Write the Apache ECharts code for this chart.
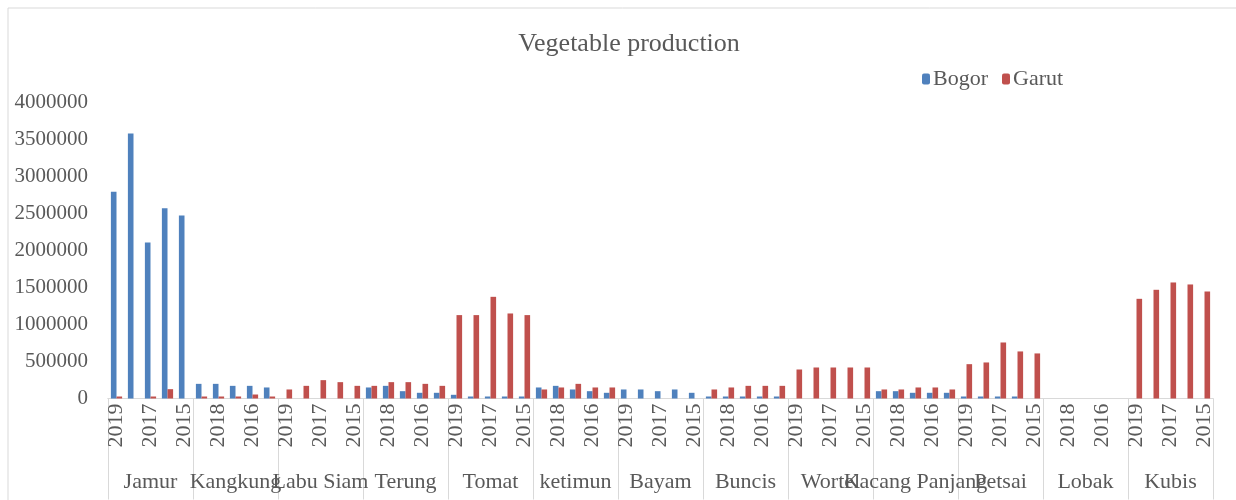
<!DOCTYPE html>
<html>
<head>
<meta charset="utf-8">
<script src="https://cdn.jsdelivr.net/npm/echarts@6/dist/echarts.min.js"></script>
<style>
  html, body { margin: 0; padding: 0; background: #fff; }
  #chart { width: 1236px; height: 500px; }
</style>
</head>
<body>
<div id="chart"></div>
<script>
// vegetables (outer category level) and years (inner level)
const groups = ["Jamur", "Kangkung", "Labu Siam", "Terung", "Tomat", "ketimun", "Bayam",
  "Buncis", "Wortel", "Kacang Panjang", "Petsai", "Lobak", "Kubis"];
const years = ["2019", "2018", "2017", "2016", "2015"];

// production per vegetable, years 2019..2015
const bogor = [
  2793000, 3581000, 2108000, 2572000, 2473000, // Jamur
  198000, 198000, 171000, 171000, 149000,      // Kangkung
  0, 0, 0, 0, 0,                               // Labu Siam
  149000, 171000, 99000, 77000, 77000,         // Terung
  50000, 27000, 27000, 27000, 27000,           // Tomat
  149000, 171000, 122000, 99000, 77000,        // ketimun
  122000, 122000, 99000, 122000, 77000,        // Bayam
  27000, 27000, 27000, 27000, 27000,           // Buncis
  0, 0, 0, 0, 0,                               // Wortel
  99000, 99000, 77000, 77000, 77000,           // Kacang Panjang
  27000, 27000, 27000, 27000, 0,               // Petsai
  0, 0, 0, 0, 0,                               // Lobak
  0, 0, 0, 0, 0                                // Kubis
];
const garut = [
  27000, 0, 27000, 126000, 0,                  // Jamur
  27000, 27000, 27000, 54000, 27000,           // Kangkung
  122000, 171000, 248000, 221000, 171000,      // Labu Siam
  171000, 221000, 221000, 198000, 171000,      // Terung
  1127000, 1127000, 1374000, 1149000, 1127000, // Tomat
  122000, 149000, 198000, 149000, 149000,      // ketimun
  0, 0, 0, 0, 0,                               // Bayam
  122000, 149000, 171000, 171000, 171000,      // Buncis
  392000, 419000, 419000, 419000, 419000,      // Wortel
  122000, 122000, 149000, 149000, 122000,      // Kacang Panjang
  464000, 487000, 757000, 636000, 609000,      // Petsai
  0, 0, 0, 0, 0,                               // Lobak
  1347000, 1469000, 1568000, 1541000, 1446000  // Kubis
];

const yMax = 4000000;
const yStep = 500000;

const FONT = "'Liberation Serif', 'DejaVu Serif', serif";
const TEXT = "#595959";
const LINE = "#D9D9D9";

// inner categories need unique names, label shows only the year
const yearCats = groups.flatMap(g => years.map(y => g + "|" + y));

const option = {
  animation: false,
  textStyle: { fontFamily: FONT },
  title: {
    text: "Vegetable production",
    left: 624,
    top: 26,
    textAlign: "center",
    textStyle: { fontFamily: FONT, fontSize: 26, fontWeight: "normal", color: TEXT }
  },
  legend: {
    left: 917,
    top: 63,
    itemWidth: 8,
    itemHeight: 11,
    itemGap: 14,
    textStyle: { fontFamily: FONT, fontSize: 22, color: TEXT, padding: [0, 0, 0, -2] },
    data: ["Bogor", "Garut"]
  },
  grid: { left: 108, right: 23, top: 102.5, bottom: 101.5 },
  xAxis: [
    {
      type: "category",
      data: yearCats,
      axisLine: { show: true, lineStyle: { color: LINE } },
      axisTick: { show: false },
      axisLabel: {
        interval: 1,
        rotate: 90,
        margin: 5,
        fontFamily: FONT,
        fontSize: 22,
        color: TEXT,
        formatter: v => v.split("|")[1]
      }
    },
    {
      type: "category",
      data: groups,
      position: "bottom",
      axisLine: { show: true, lineStyle: { color: LINE } },
      axisTick: { show: true, length: 101, lineStyle: { color: LINE } },
      axisLabel: {
        interval: 0,
        margin: 73,
        fontFamily: FONT,
        fontSize: 22,
        color: TEXT
      }
    }
  ],
  yAxis: {
    type: "value",
    min: 0,
    max: yMax,
    interval: yStep,
    axisLine: { show: false },
    axisTick: { show: false },
    splitLine: { show: false },
    axisLabel: {
      margin: 20,
      fontFamily: FONT,
      fontSize: 21,
      color: TEXT,
      formatter: v => String(v)
    }
  },
  graphic: [
    {
      type: "rect",
      shape: { x: 8, y: 8, width: 1240, height: 500 },
      style: { fill: "none", stroke: LINE, lineWidth: 1 },
      silent: true
    }
  ],
  series: [
    {
      name: "Bogor",
      type: "bar",
      xAxisIndex: 0,
      data: bogor,
      barGap: "0%",
      barCategoryGap: "34%",
      itemStyle: { color: "#4F81BD" }
    },
    {
      name: "Garut",
      type: "bar",
      xAxisIndex: 0,
      data: garut,
      barGap: "0%",
      barCategoryGap: "34%",
      itemStyle: { color: "#C0504D" }
    }
  ]
};

const chart = echarts.init(document.getElementById("chart"));
chart.setOption(option);
</script>
</body>
</html>
